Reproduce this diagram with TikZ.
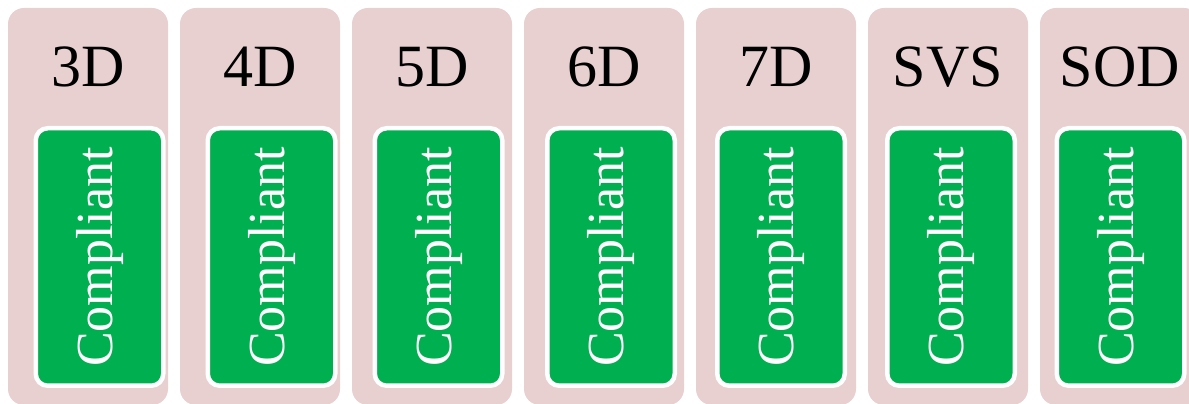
\documentclass[tikz,border=0pt]{standalone}
\usepackage{fontspec}
\setmainfont{Liberation Serif}
\definecolor{colpink}{RGB}{232,208,208}
\definecolor{okgreen}{RGB}{0,176,80}
\begin{document}
\begin{tikzpicture}
[x=1pt, y=1pt,
column/.style={rectangle, fill=colpink, rounded corners=16pt, inner sep=0pt, minimum width=160pt, minimum height=397pt},
header/.style={anchor=base, inner sep=0pt, font=\fontsize{60}{72}\selectfont},
status/.style={rectangle, draw=white, line width=4.5pt, fill=okgreen, rounded corners=12pt, inner sep=0pt, minimum width=127.5pt, minimum height=257.5pt},
statustext/.style={rotate=90, inner sep=0pt, text=white, font=\fontsize{52}{62}\selectfont}]

\useasboundingbox (0,0) rectangle (1189,404);

\foreach \i/\cx/\gx/\lbl in {1/88/99.5/3D, 2/260/271.5/4D, 3/432/438.5/5D, 4/604/611/6D, 5/776/781/7D, 6/948/951/SVS, 7/1120/1120.5/SOD} {
  \node[column] (col\i) at (\cx,197.5) {};
  \node[header] (head\i) at (\cx,317) {\lbl};
  \node[status] (stat\i) at (\gx,147) {};
  \node[statustext] (text\i) at (stat\i.center) {Compliant};
}
\end{tikzpicture}
\end{document}
